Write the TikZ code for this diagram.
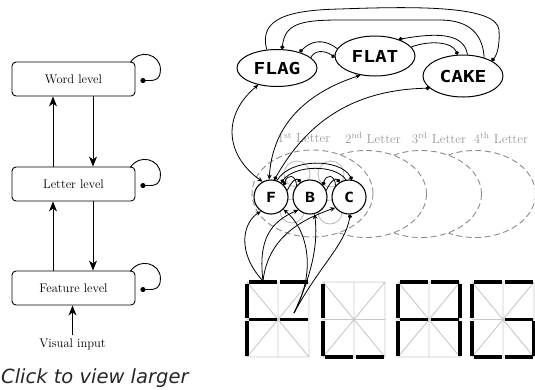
\documentclass[tikz,border=0pt]{standalone}
\usepackage{fontspec}
\usetikzlibrary{arrows.meta,shapes.geometric}
\newfontfamily\segfont[FakeStretch=1.18]{DejaVu Sans Mono}
\newfontfamily\notefont{DejaVu Sans}
\definecolor{gridgray}{HTML}{C8C8C8}
\definecolor{labelgray}{HTML}{9A9A9A}
\definecolor{dashgray}{HTML}{8C8C8C}
\definecolor{ringgray}{HTML}{B8B8B8}

% one 14-segment display cell: grid in light gray, lit bars in black
\newcommand\segdisplay[3]{%
  \begin{scope}[shift={(#1,#2)}]
    \draw[gridline] (0,0) rectangle (62,75) (31,0) -- (31,75) (0,37.5) -- (62,37.5)
      (0,0) -- (62,75) (62,0) -- (0,75);
    \foreach \xa/\ya/\xb/\yb in {#3}
      \draw[segbar] (\xa,\ya) -- (\xb,\yb);
  \end{scope}}

\begin{document}
\begin{tikzpicture}[x=1pt,y=-1pt,
  lvl/.style={draw, rounded corners=4pt, line width=0.9pt, minimum width=123pt,
    minimum height=34pt, inner sep=0pt, font=\fontsize{12.5}{12.5}\selectfont},
  upar/.style={-{Stealth[length=10pt,width=8pt,inset=3pt]}, line width=1pt},
  selfloop/.style={-{Circle[length=5pt]}, line width=0.9pt},
  wordnode/.style={draw, ellipse, line width=1pt, inner sep=0pt,
    font=\segfont\bfseries\fontsize{16.5}{16.5}\selectfont},
  letnode/.style={draw, circle, minimum size=34pt, line width=1.1pt, fill=white,
    inner sep=0pt, font=\segfont\bfseries\fontsize{14}{14}\selectfont},
  slot/.style={draw=dashgray, dash pattern=on 6pt off 3.5pt, line width=0.9pt, fill=white},
  slotlabel/.style={text=labelgray, font=\fontsize{13}{13}\selectfont, inner sep=0pt},
  ring/.style={draw=ringgray, line width=0.8pt},
  gridline/.style={draw=gridgray, line width=0.9pt},
  segbar/.style={line width=3.3pt, shorten <=1.5pt, shorten >=1.5pt},
  conn/.style={line width=0.8pt},
  both/.style={conn, {Stealth[length=5pt,width=4.5pt]}-{Stealth[length=5pt,width=4.5pt]}},
  toarr/.style={conn, -{Stealth[length=5pt,width=4.5pt]}},
  dotend/.style={conn, -{Circle[length=4pt]}},
  dotstart/.style={conn, {Circle[length=4pt]}-},
  dotboth/.style={conn, {Circle[length=4pt]}-{Circle[length=4pt]}}]

\useasboundingbox (0,0) rectangle (535,389);

% ---------- left: the three levels ----------
\node[lvl] (word) at (73.5,79) {Word level};
\node[lvl] (letter) at (73.5,184) {Letter level};
\node[lvl] (feat) at (73.5,288) {Feature level};
\node[inner sep=0pt, font=\fontsize{12.5}{12.5}\selectfont] (vis) at (72.5,344) {Visual input};

\draw[upar] ([xshift=-20.5pt]letter.north) -- ([xshift=-20.5pt]word.south);
\draw[upar] ([xshift=19.5pt]word.south) -- ([xshift=19.5pt]letter.north);
\draw[upar] ([xshift=-20.5pt]feat.north) -- ([xshift=-20.5pt]letter.south);
\draw[upar] ([xshift=19.5pt]letter.south) -- ([xshift=19.5pt]feat.north);
\draw[upar] ([yshift=3pt]vis.north) -- (vis.north |- feat.south);

\foreach \n in {word,letter,feat}
  \draw[selfloop] ([shift={(-5,1)}]\n.north east) .. controls +(8,-14) and +(0,-16) ..
    ([shift={(25,8)}]\n.north east) .. controls +(0,12) and +(12,0) ..
    ([shift={(5,19)}]\n.north east);

\node[anchor=base west, inner sep=0pt, text=black!85,
  font=\notefont\itshape\fontsize{19.5}{20}\selectfont] (click) at (1,383) {Click to view larger};

% ---------- right: letter positions ----------
\draw[slot] (475,194) ellipse [x radius=60.5, y radius=43.5];
\draw[slot] (421,194) ellipse [x radius=60.5, y radius=43.5];
\draw[slot] (366,194) ellipse [x radius=60.5, y radius=43.5];
\draw[slot] (312.5,193.5) ellipse [x radius=60.5, y radius=43.5];

\node[slotlabel] (lab1) at (304,138) {1\textsuperscript{st} Letter};
\node[slotlabel] (lab2) at (373,138) {2\textsuperscript{nd} Letter};
\node[slotlabel] (lab3) at (439,138) {3\textsuperscript{rd} Letter};
\node[slotlabel] (lab4) at (501,138) {4\textsuperscript{th} Letter};

\draw[ring] (297,174) circle [radius=13];
\draw[ring] (331,174) circle [radius=13];
\draw[ring] (292,211) circle [radius=12];
\draw[ring] (330,212) circle [radius=12];

\node[letnode] (cF) at (271,197) {F};
\node[letnode] (cB) at (310,197) {B};
\node[letnode] (cC) at (349,197) {C};

% ---------- word units ----------
\node[wordnode, minimum width=80pt, minimum height=37pt] (flag) at (277,68) {FLAG};
\node[wordnode, minimum width=80pt, minimum height=40pt] (flat) at (375,56) {FLAT};
\node[wordnode, minimum width=80pt, minimum height=42pt] (cake) at (463,76) {CAKE};

% word-word inhibition
\draw[dotend] (flag.119) .. controls (258,18) and (290,10) .. (340,9)
  .. controls (420,6) and (497,6) .. (499,30) .. controls (500,45) and (497,55) .. (cake.28);
\draw[dotstart] (flag.75) .. controls (285,24) and (300,20) .. (340,20) -- (440,20)
  .. controls (470,20) and (483,35) .. (cake.41);
\draw[dotstart] (flag.35) .. controls (310,42) and (322,37) .. (flat.169);
\draw[dotend] (flag.17) .. controls (314,50) and (325,50) .. (flat.182);
\draw[dotstart] (flat.35) .. controls (440,32) and (464,34) .. (cake.78);
\draw[dotend] (flat.14) .. controls (430,40) and (452,42) .. (cake.104);

% word-letter links
\draw[both] (flag.222) .. controls (222,115) and (225,155) .. (cF.119);
\draw[both] (flat.233) .. controls (300,95) and (272,130) .. (cF.96);
\draw[dotboth] (cake.200) .. controls (340,90) and (300,135) .. (cF.79);

% letter-letter inhibition
\draw[dotend] (cF.70) .. controls (290,158) and (340,158) .. (cC.80);
\draw[dotstart] (cF.55) .. controls (295,165) and (335,164) .. (cC.100);
\draw[dotstart] (cF.42) .. controls (287,174) and (296,174) .. (cB.140);
\draw[dotend] (cF.22) .. controls (292,180) and (297,178) .. (cB.123);
\draw[dotstart] (cB.42) .. controls (326,174) and (335,174) .. (cC.140);
\draw[dotend] (cB.22) .. controls (331,180) and (336,178) .. (cC.123);

% ---------- feature displays ----------
\segdisplay{247}{282}{0/0/31/0, 31/0/62/0, 0/0/0/37.5, 0/37.5/0/75, 0/37.5/31/37.5, 31/37.5/62/37.5}
\segdisplay{323}{282}{0/0/0/37.5, 0/37.5/0/75, 0/75/31/75, 31/75/62/75}
\segdisplay{398}{282}{0/0/31/0, 31/0/62/0, 0/0/0/37.5, 0/37.5/0/75, 62/0/62/37.5, 62/37.5/62/75, 0/37.5/31/37.5, 31/37.5/62/37.5}
\segdisplay{472}{282}{0/0/31/0, 31/0/62/0, 0/0/0/37.5, 0/37.5/0/75, 0/75/31/75, 31/75/62/75, 31/37.5/62/37.5, 62/37.5/62/75}

% feature-letter links
\coordinate (p1) at (263,281);
\coordinate (p2) at (294,313);
\draw[toarr] (p1) .. controls (236,252) and (243,222) .. (cF.235);
\draw[toarr] (p1) .. controls (258,240) and (270,222) .. (cB.228);
\draw[toarr] (p1) .. controls (268,238) and (300,220) .. (cC.218);
\draw[toarr] (p2) .. controls (318,268) and (306,228) .. (cF.315);
\draw[toarr] (p2) .. controls (314,270) and (318,240) .. (cB.285);
\draw[dotend] (p2) .. controls (320,265) and (345,245) .. (cC.274);

\end{tikzpicture}
\end{document}
